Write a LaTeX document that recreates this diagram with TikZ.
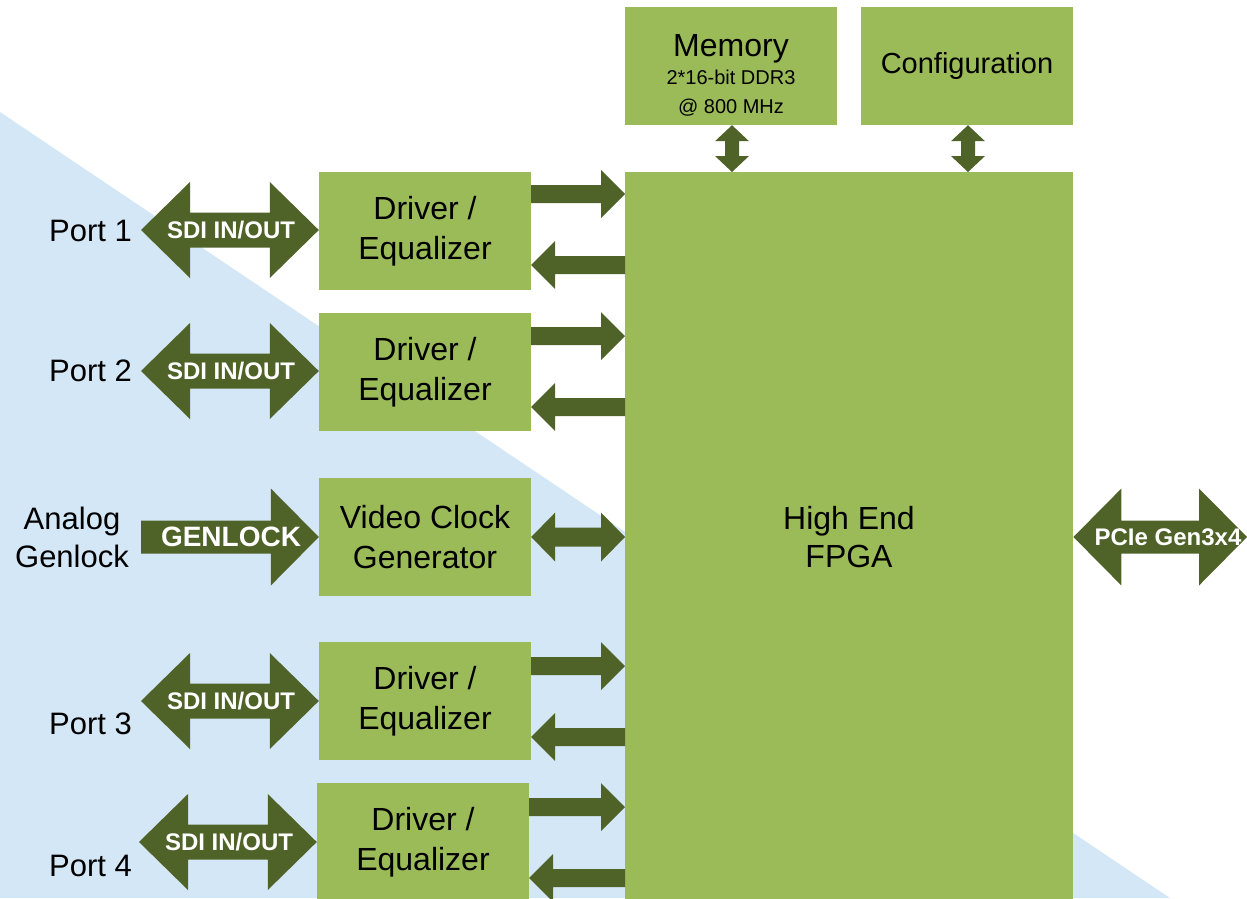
\documentclass[tikz,border=0pt]{standalone}
\usepackage{fontspec}
\setmainfont{Liberation Sans}
\usetikzlibrary{calc}
\definecolor{boxg}{HTML}{9BBB59}
\definecolor{arrg}{HTML}{4F6228}
\definecolor{bgblue}{HTML}{D4E7F6}
% fat arrows between named points; #3 = y (or x) of the axis, #4 head length, #5 head half width, #6 shaft half width
\newcommand\FatDbl[6]{\fill[fatarrow] let \p1=(#1), \p2=(#2), \p3=(0,#3) in
  (\x1,\y3) -- (\x1+#4pt,\y3+#5pt) -- (\x1+#4pt,\y3+#6pt) -- (\x2-#4pt,\y3+#6pt) -- (\x2-#4pt,\y3+#5pt) -- (\x2,\y3)
  -- (\x2-#4pt,\y3-#5pt) -- (\x2-#4pt,\y3-#6pt) -- (\x1+#4pt,\y3-#6pt) -- (\x1+#4pt,\y3-#5pt) -- cycle;}
\newcommand\FatRight[6]{\fill[fatarrow] let \p1=(#1), \p2=(#2), \p3=(0,#3) in
  (\x1,\y3+#6pt) -- (\x2-#4pt,\y3+#6pt) -- (\x2-#4pt,\y3+#5pt) -- (\x2,\y3) -- (\x2-#4pt,\y3-#5pt) -- (\x2-#4pt,\y3-#6pt) -- (\x1,\y3-#6pt) -- cycle;}
\newcommand\FatLeft[6]{\fill[fatarrow] let \p1=(#1), \p2=(#2), \p3=(0,#3) in
  (\x1,\y3) -- (\x1+#4pt,\y3+#5pt) -- (\x1+#4pt,\y3+#6pt) -- (\x2,\y3+#6pt) -- (\x2,\y3-#6pt) -- (\x1+#4pt,\y3-#6pt) -- (\x1+#4pt,\y3-#5pt) -- cycle;}
\newcommand\FatVDbl[6]{\fill[fatarrow] let \p1=(#1), \p2=(#2), \p3=(#3,0) in
  (\x3,\y1) -- (\x3+#5pt,\y1-#4pt) -- (\x3+#6pt,\y1-#4pt) -- (\x3+#6pt,\y2+#4pt) -- (\x3+#5pt,\y2+#4pt) -- (\x3,\y2)
  -- (\x3-#5pt,\y2+#4pt) -- (\x3-#6pt,\y2+#4pt) -- (\x3-#6pt,\y1-#4pt) -- (\x3-#5pt,\y1-#4pt) -- cycle;}
\begin{document}
\begin{tikzpicture}[x=1pt,y=-1pt,
  fatarrow/.style={fill=arrg},
  box/.style={fill=boxg, minimum width=212pt, minimum height=118pt, inner sep=0pt, align=center, font=\fontsize{32}{40}\selectfont},
  lbl/.style={inner sep=0pt, align=center, font=\fontsize{31}{38}\selectfont},
  arrtxt/.style={inner sep=0pt, text=white, font=\fontsize{24}{24}\selectfont\bfseries},
  small/.style={inner sep=0pt, anchor=base, font=\fontsize{20}{24}\selectfont}]
\useasboundingbox (0,0) rectangle (1247,898);
\clip (0,0) rectangle (1247,898);
\fill[bgblue] (0,112) -- (1170,898) -- (0,898) -- cycle;
% blocks
\node[box] (d1) at (425,231) {Driver /\\Equalizer};
\node[box] (d2) at (425,372) {Driver /\\Equalizer};
\node[box] (vc) at (425,537) {Video Clock\\Generator};
\node[box] (d3) at (425,701) {Driver /\\Equalizer};
\node[box] (d4) at (423,842) {Driver /\\Equalizer};
\node[box, minimum width=448pt, minimum height=746pt, anchor=north west] (fpga) at (625,172) {};
\node[lbl, font=\fontsize{32}{38}\selectfont] (fpgat) at (849,537) {High End\\FPGA};
\node[box] (mem) at (731,66) {};
\node[small, font=\fontsize{32}{38}\selectfont] (memt) at (731,56) {Memory};
\node[small] (mem2) at (731,84) {2*16-bit DDR3};
\node[small] (mem3) at (731,113) {@ 800 MHz};
\node[box, font=\fontsize{29}{36}\selectfont] (cfg) at (967,66) {Configuration};
% port labels
\node[lbl, anchor=east] (p1) at (132,231) {Port 1};
\node[lbl, anchor=east] (p2) at (132,371) {Port 2};
\node[lbl] (ag) at (72,537) {Analog\\Genlock};
\node[lbl, anchor=east] (p3) at (132,724) {Port 3};
\node[lbl, anchor=east] (p4) at (132,866) {Port 4};
% free arrow ends
\coordinate (s1) at (141,230);
\coordinate (s2) at (141,371);
\coordinate (g0) at (141,537);
\coordinate (s3) at (141,701);
\coordinate (s4) at (139,842);
\coordinate (pc) at (1247,537);
% SDI arrows
\FatDbl{s1}{d1.west}{230}{49}{48}{17.5}
\FatDbl{s2}{d2.west}{371}{49}{48}{17.5}
\FatRight{g0}{vc.west}{537}{48}{48.5}{16.5}
\FatDbl{s3}{d3.west}{701}{49}{48}{17.5}
\FatDbl{s4}{d4.west}{842}{49}{48}{17.5}
\node[arrtxt] at (231,230) {SDI IN/OUT};
\node[arrtxt] at (231,371) {SDI IN/OUT};
\node[arrtxt, font=\fontsize{28}{28}\selectfont\bfseries] at (231,537) {GENLOCK};
\node[arrtxt] at (231,701) {SDI IN/OUT};
\node[arrtxt] at (229,842) {SDI IN/OUT};
% driver <-> FPGA
\FatRight{d1.east}{fpga.west}{194}{24}{24}{9}
\FatLeft{d1.east}{fpga.west}{265}{24}{24}{9}
\FatRight{d2.east}{fpga.west}{336}{24}{24}{9}
\FatLeft{d2.east}{fpga.west}{407}{24}{24}{9}
\FatDbl{vc.east}{fpga.west}{537}{24}{24.5}{9.5}
\FatRight{d3.east}{fpga.west}{666}{24}{24}{9}
\FatLeft{d3.east}{fpga.west}{737}{24}{24}{9}
\FatRight{d4.east}{fpga.west}{807}{24}{24}{9}
\FatLeft{d4.east}{fpga.west}{878}{24}{24}{9}
% memory / configuration
\FatVDbl{mem.south}{fpga.north}{732}{16}{17}{7}
\FatVDbl{cfg.south}{fpga.north}{968}{16}{17}{7}
% PCIe
\FatDbl{fpga.east}{pc}{537}{48}{48.5}{16.5}
\node[arrtxt] at (1168,537) {PCIe Gen3x4};
\end{tikzpicture}
\end{document}
